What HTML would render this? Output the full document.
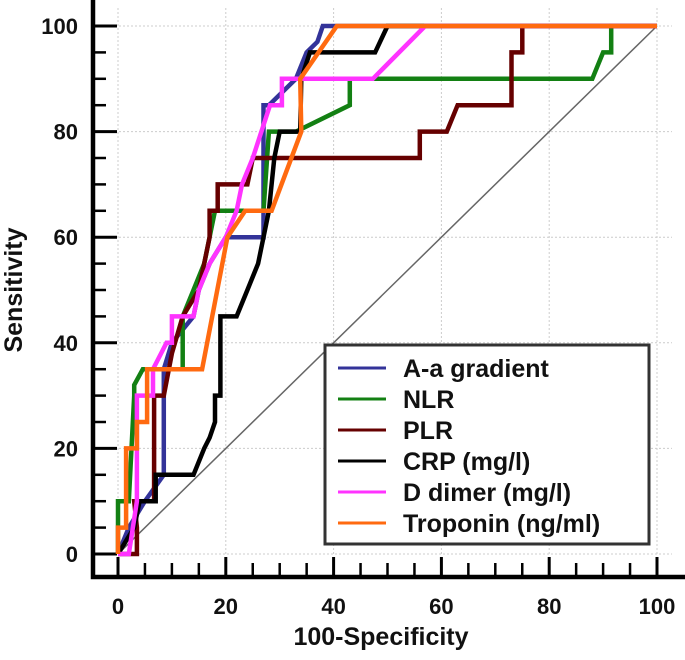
<!DOCTYPE html>
<html><head><meta charset="utf-8"><style>
body{margin:0;background:#fff;}
svg text{font-family:"Liberation Sans",Arial,sans-serif;font-weight:bold;fill:#111;}
</style></head><body>
<svg id="chart" width="685" height="655" viewBox="0 0 685 655"></svg>
<script>
const xTicks=[0,20,40,60,80,100];
const yTicks=[0,20,40,60,80,100];
const seriesNames=["A-a gradient","NLR","PLR","CRP (mg/l)","D dimer (mg/l)","Troponin (ng/ml)"];
const seriesColors=["#333399","#138013","#660000","#000000","#ff33ff","#ff6a10"];
const aaX=[0,2,5,8.5,8.5,10,14,15,17,20,27,27,28,33,35,37,38,40,100];
const aaY=[0,5,10,15,35,40,45,50,55,60,60,85,85,90,95,97,100,100,100];
const nlrX=[0,0,2,3,3,4.6,12,12,14,16,17,18,27,28,33,43,43,88,90,91.5,91.5,100];
const nlrY=[0,10,10,30,32,35,35,45,50,55,60,65,65,80,80,85,90,90,95,95,100,100];
const plrX=[0,3.5,3.5,3,6.7,6.7,8.5,10,12,15,16,17,17,18.5,18.5,24,25,56,56,61,63,73,73,75,75,100];
const plrY=[0,0,5,10,10,30,30,38,45,50,55,60,65,65,70,70,75,75,80,80,85,85,95,95,100,100];
const crpX=[0,3,4,7,7,14,16,17,18,18,19,19,22,24,26,27,28,29,30,33.8,34,35.6,47.7,50,100];
const crpY=[0,5,10,10,15,15,20,22,25,30,30,45,45,50,55,60,65,75,80,80,90,95,95,100,100];
const ddX=[0,2,3.5,3.5,6.5,6.5,8,9,10,10,14,15,17,20,22,23,25,28.2,30.4,30.4,47.3,57,100];
const ddY=[0,0,10,30,30,35,38,40,40,45,45,50,55,60,65,70,75,85,85,90,90,100,100];
const tropX=[0,0,1.5,1.5,3.5,3.5,5.4,5.4,15.6,20.3,23.6,28.5,34,33.8,40.6,100];
const tropY=[0,5,5,20,20,25,25,35,35,60,65,65,80,90,100,100];
const allX=[aaX,nlrX,plrX,crpX,ddX,tropX];
const allY=[aaY,nlrY,plrY,crpY,ddY,tropY];

const svg=document.getElementById('chart');
const NS='http://www.w3.org/2000/svg';
const X0=118,X1=657,Y0=554,Y1=26;
const sx=v=>X0+(X1-X0)*v/100;
const sy=v=>Y0-(Y0-Y1)*v/100;
function mk(t,a){const e=document.createElementNS(NS,t);for(const k in a)e.setAttribute(k,a[k]);svg.appendChild(e);return e;}

xTicks.forEach(v=>{const g=mk('line',{x1:sx(v),x2:sx(v),y1:8,y2:Y0,stroke:'#ccc','stroke-dasharray':'2,2','stroke-width':1});

});
yTicks.forEach(v=>{const g=mk('line',{x1:95,x2:672,y1:sy(v),y2:sy(v),stroke:'#ccc','stroke-dasharray':'2,2','stroke-width':1});

});
const d=mk('line',{x1:sx(0),y1:sy(0),x2:sx(100),y2:sy(100),stroke:'#666','stroke-width':1.5});


const ax=mk('path',{d:`M93,0 L93,577 L685,577`,stroke:'#000','stroke-width':4.5,fill:'none'});


for(let v=0;v<=100;v+=5){
 const major=v%20===0;
 const t=mk('line',{x1:93,x2:major?117:106,y1:sy(v),y2:sy(v),stroke:'#000','stroke-width':major?3:2.5});
 
 
 const u=mk('line',{x1:sx(v),x2:sx(v),y1:577,y2:major?557:563,stroke:'#000','stroke-width':major?3:2.5});
 
 
}
xTicks.forEach(v=>{const t=mk('text',{x:sx(v),y:614,'text-anchor':'middle','font-size':22});t.textContent=v;

});
yTicks.forEach(v=>{const t=mk('text',{x:78,y:sy(v)+8,'text-anchor':'end','font-size':22});t.textContent=v;

});
const xl=mk('text',{x:381,y:645,'text-anchor':'middle','font-size':25});xl.textContent='100-Specificity';


const yl=mk('text',{x:22,y:290,'text-anchor':'middle','font-size':25,transform:'rotate(-90 22 290)'});yl.textContent='Sensitivity';


allX.forEach((xs,i)=>{
 const pts=xs.map((x,j)=>sx(x).toFixed(1)+','+sy(allY[i][j]).toFixed(1)).join(' ');
 const p=mk('polyline',{points:pts,fill:'none',stroke:seriesColors[i],'stroke-width':4.5,'stroke-linejoin':'miter'});
 
 
});
const lb=mk('rect',{x:325,y:345,width:324,height:199,fill:'#fff',stroke:'#333','stroke-width':3});


seriesNames.forEach((n,i)=>{
 const y=368+i*31;
 const l=mk('line',{x1:338,x2:386,y1:y,y2:y,stroke:seriesColors[i],'stroke-width':3});
 
 
 const t=mk('text',{x:403,y:y+9,'font-size':25});t.textContent=n;
 
 
});
</script>
</body></html>
